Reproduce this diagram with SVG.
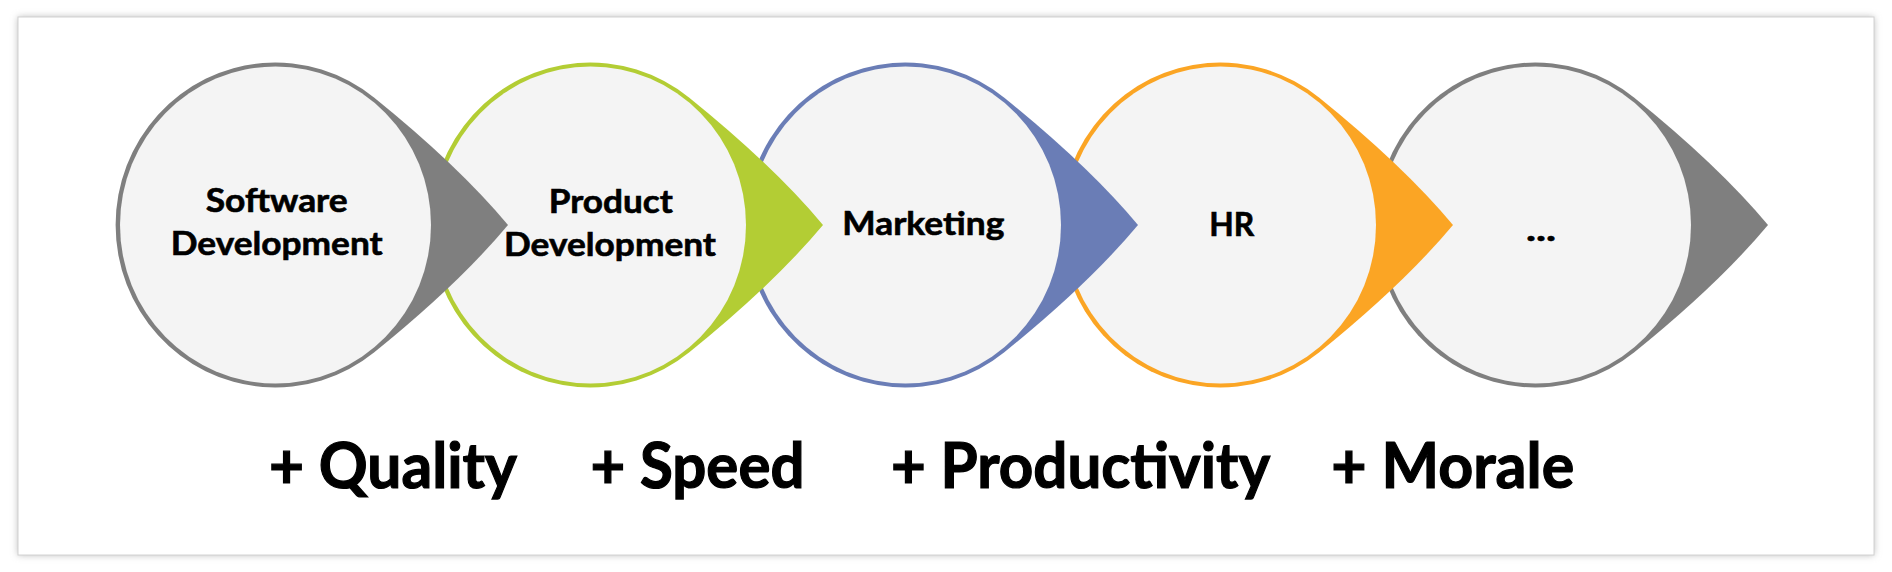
<svg xmlns="http://www.w3.org/2000/svg" width="1892" height="572" viewBox="0 0 1892 572">
  <defs>
    <filter id="shadow" x="-5%" y="-5%" width="110%" height="110%">
      <feGaussianBlur stdDeviation="3.5"/>
    </filter>
    <path id="tear" d="M232,0 Q182.5,-59.3 98,-127.5 A159.5,162.5 0 1 0 98,127.5 Q182.5,59.3 232,0 Z"/>
  </defs>
  <style>
    .inner { fill: #f4f4f4; }
    .node text { font-family: Lato, "Noto Sans", "Liberation Sans", sans-serif; font-weight: bold; font-size: 31.5px; fill: #000; stroke: #000; stroke-width: 0.6px; text-anchor: middle; }
    .label { font-family: Lato, "Noto Sans", "Liberation Sans", sans-serif; font-weight: bold; font-size: 63px; fill: #000; stroke: #000; stroke-width: 1.2px; text-anchor: middle; }
    .gray { fill: #7f7f7f; }
    .green { fill: #b3cd34; }
    .blue { fill: #6a7db6; }
    .orange { fill: #fba524; }
  </style>

  <g id="frame">
    <rect x="18" y="17" width="1856" height="538" fill="#b8b8b8" filter="url(#shadow)"/>
    <rect x="18" y="17" width="1856" height="538" fill="#ffffff" stroke="#d2d2d2" stroke-width="1"/>
  </g>

  <g id="connectors"></g>

  <g id="node5" class="node">
    <use href="#tear" x="1536" y="225" class="gray"/>
    <ellipse cx="1535.5" cy="225" rx="155.5" ry="158.5" class="inner"/>
    <text x="1541" y="241" textLength="30" lengthAdjust="spacingAndGlyphs">...</text>
  </g>

  <g id="node4" class="node">
    <use href="#tear" x="1221" y="225" class="orange"/>
    <ellipse cx="1220.5" cy="225" rx="155.5" ry="158.5" class="inner"/>
    <text x="1231.7" y="236" textLength="45" lengthAdjust="spacingAndGlyphs">HR</text>
  </g>

  <g id="node3" class="node">
    <use href="#tear" x="906" y="225" class="blue"/>
    <ellipse cx="905.5" cy="225" rx="155.5" ry="158.5" class="inner"/>
    <text x="923.3" y="235" textLength="162" lengthAdjust="spacingAndGlyphs">Marketing</text>
  </g>

  <g id="node2" class="node">
    <use href="#tear" x="591" y="225" class="green"/>
    <ellipse cx="590.5" cy="225" rx="155.5" ry="158.5" class="inner"/>
    <text x="610.8" y="212.7" textLength="124" lengthAdjust="spacingAndGlyphs">Product</text>
    <text x="610" y="256" textLength="212" lengthAdjust="spacingAndGlyphs">Development</text>
  </g>

  <g id="node1" class="node">
    <use href="#tear" x="276" y="225" class="gray"/>
    <ellipse cx="275.5" cy="225" rx="155.5" ry="158.5" class="inner"/>
    <text x="276.7" y="211.7" textLength="142" lengthAdjust="spacingAndGlyphs">Software</text>
    <text x="276.7" y="255" textLength="212" lengthAdjust="spacingAndGlyphs">Development</text>
  </g>

  <g id="labels">
    <text class="label" x="393" y="488" textLength="248" lengthAdjust="spacingAndGlyphs">+ Quality</text>
    <text class="label" x="697.5" y="488" textLength="214" lengthAdjust="spacingAndGlyphs">+ Speed</text>
    <text class="label" x="1080.6" y="488" textLength="379" lengthAdjust="spacingAndGlyphs">+ Productivity</text>
    <text class="label" x="1452.8" y="488" textLength="243" lengthAdjust="spacingAndGlyphs">+ Morale</text>
  </g>
</svg>
